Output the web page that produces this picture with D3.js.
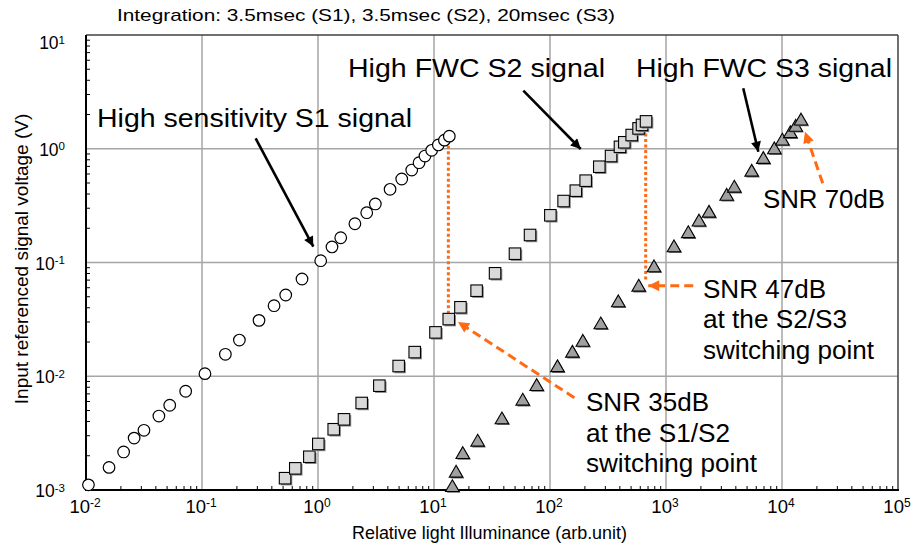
<!DOCTYPE html>
<html>
<head>
<meta charset="utf-8">
<script src="https://cdn.jsdelivr.net/npm/d3@7"></script>
<style>
  body { margin: 0; background: #fff; }
  svg { display: block; font-family: "Liberation Sans", Arial, sans-serif; }
</style>
</head>
<body>
<div class="chart-container"></div>
<script>
// S1 (high sensitivity), S2 (high FWC), S3 (high FWC, long integration)  [illuminance, volts]
var s1 = [[0.0105,0.00111],[0.0158,0.00158],[0.0211,0.00216],[0.026,0.00286],[0.0316,0.00335],
          [0.0425,0.00447],[0.0527,0.00556],[0.0723,0.00738],[0.106,0.01054],[0.159,0.0156],
          [0.21,0.0208],[0.31,0.031],[0.418,0.0417],[0.527,0.0518],[0.728,0.0716],
          [1.055,0.1037],[1.32,0.137],[1.57,0.165],[2.08,0.219],[2.63,0.274],
          [3.12,0.327],[4.18,0.44],[5.27,0.542],[6.43,0.65],[7.43,0.754],
          [8.36,0.863],[9.55,0.969],[10.9,1.08],[12.3,1.19],[13.55,1.29]];
var s2 = [[0.52,0.00127],[0.637,0.00155],[0.842,0.00196],[1.006,0.00254],[1.366,0.00342],
          [1.675,0.00418],[2.38,0.00582],[3.38,0.00826],[4.96,0.0123],[6.82,0.0163],
          [10.3,0.0243],[13.4,0.0318],[16.9,0.0404],[23.3,0.0565],[33.6,0.0804],
          [49.9,0.1195],[67.3,0.1745],[100.7,0.26],[131,0.347],[167,0.428],
          [203,0.524],[266,0.695],[336,0.863],[401,1.04],[437,1.14],
          [506,1.32],[580,1.51],[621,1.62],[673,1.74]];
var s3 = [[14.4,0.00106],[15.5,0.00142],[17.7,0.00207],[23.8,0.00266],[38.5,0.00418],
          [58.2,0.0061],[76.8,0.0082],[116,0.012],[156,0.0161],[192,0.0201],
          [274,0.0286],[388,0.0447],[582,0.0613],[788,0.0908],[1172,0.136],
          [1556,0.181],[1925,0.229],[2348,0.274],[3335,0.386],[3880,0.455],
          [5480,0.628],[6900,0.813],[8590,0.989],[10070,1.18],[11800,1.37],
          [13130,1.56],[14580,1.77]];

var xTickExps = [-2, -1, 0, 1, 2, 3, 4, 5];
var yTickExps = [-3, -2, -1, 0, 1];

// switching points: x, top value, bottom value
var switchLines = [[13.3, 1.19, 0.036], [668, 1.52, 0.070]];
// arrows: [x0, y0, x1, y1] in data units, head at (x1, y1)
var blackArrows = [[0.29, 1.236, 0.911, 0.138], [58.9, 3.24, 184, 0.995], [4634, 3.40, 6250, 0.942]];
var orangeArrows = [[162, 0.00648, 16.1, 0.030], [1718, 0.0625, 703, 0.0625], [22440, 0.497, 15780, 1.41]];

var orange = "#ff6a13";

draw();

function draw() {
    var width = 922, height = 548;
    var margin = { top: 35, right: 24, bottom: 58, left: 86 };

    var svg = d3.select(".chart-container").append("svg")
        .attr("width", width)
        .attr("height", height);

    var x = d3.scaleLog().domain([1e-2, 1e5]).range([margin.left, width - margin.right]);
    var y = d3.scaleLog().domain([1e-3, 1e1]).range([height - margin.bottom, margin.top]);
    var x0 = x.range()[0], x1 = x.range()[1], y0 = y.range()[0], y1 = y.range()[1];

    var defs = svg.append("defs");
    function marker(id, color, w, h) {
        defs.append("marker")
            .attr("id", id)
            .attr("markerUnits", "userSpaceOnUse")
            .attr("viewBox", "0 0 10 10")
            .attr("refX", 10).attr("refY", 5)
            .attr("markerWidth", w).attr("markerHeight", h)
            .attr("orient", "auto")
          .append("path")
            .attr("d", "M0,0L10,5L0,10z")
            .attr("fill", color);
    }
    marker("headBlack", "#000", 14, 10);
    marker("headOrange", orange, 12, 11);

    // major grid
    var grid = svg.append("g").attr("stroke", "#a6a6a6").attr("stroke-width", 1.5);
    grid.selectAll(".gx").data(xTickExps.slice(1, -1)).enter().append("line")
        .attr("x1", function (e) { return x(Math.pow(10, e)); })
        .attr("x2", function (e) { return x(Math.pow(10, e)); })
        .attr("y1", y0).attr("y2", y1);
    grid.selectAll(".gy").data(yTickExps.slice(1, -1)).enter().append("line")
        .attr("y1", function (e) { return y(Math.pow(10, e)); })
        .attr("y2", function (e) { return y(Math.pow(10, e)); })
        .attr("x1", x0).attr("x2", x1);

    // frame
    svg.append("line").attr("x1", x0).attr("x2", x1).attr("y1", y1).attr("y2", y1)
        .attr("stroke", "#404040").attr("stroke-width", 1.5);
    svg.append("line").attr("x1", x1).attr("x2", x1).attr("y1", y0).attr("y2", y1)
        .attr("stroke", "#404040").attr("stroke-width", 1.5);

    // minor ticks (inward)
    var minorX = [], minorY = [];
    xTickExps.slice(0, -1).forEach(function (e) {
        for (var m = 2; m < 10; m++) minorX.push(m * Math.pow(10, e));
    });
    yTickExps.slice(0, -1).forEach(function (e) {
        for (var m = 2; m < 10; m++) minorY.push(m * Math.pow(10, e));
    });
    svg.append("g").attr("stroke", "#000").attr("stroke-width", 1)
        .selectAll("line").data(minorX).enter().append("line")
        .attr("x1", function (d) { return x(d); }).attr("x2", function (d) { return x(d); })
        .attr("y1", y0).attr("y2", y0 - 4);
    svg.append("g").attr("stroke", "#000").attr("stroke-width", 1)
        .selectAll("line").data(minorY).enter().append("line")
        .attr("y1", function (d) { return y(d); }).attr("y2", function (d) { return y(d); })
        .attr("x1", x0).attr("x2", x0 + 4);

    // main axes
    svg.append("line").attr("x1", x0).attr("x2", x1 + 1).attr("y1", y0).attr("y2", y0)
        .attr("stroke", "#000").attr("stroke-width", 2);
    svg.append("line").attr("x1", x0).attr("x2", x0).attr("y1", y0 + 1).attr("y2", y1)
        .attr("stroke", "#000").attr("stroke-width", 2);

    // tick labels
    var xl = svg.append("g").attr("font-size", 18.5).attr("text-anchor", "middle")
        .selectAll("text").data(xTickExps).enter().append("text")
        .attr("x", function (e) { return x(Math.pow(10, e)) - 1; })
        .attr("y", y0 + 23);
    xl.append("tspan").text("10");
    xl.append("tspan").attr("font-size", 12).attr("dy", -6.5).text(function (e) { return e; });

    var yl = svg.append("g").attr("font-size", 17.5).attr("text-anchor", "end")
        .selectAll("text").data(yTickExps).enter().append("text")
        .attr("x", 65)
        .attr("y", function (e) { return Math.max(y(Math.pow(10, e)) + 7, 49); });
    yl.append("tspan").text("10");
    yl.append("tspan").attr("font-size", 11.5).attr("dy", -5.5).text(function (e) { return e; });

    // axis titles
    svg.append("text").attr("x", 352).attr("y", 539)
        .attr("font-size", 17.5).attr("textLength", 275).attr("lengthAdjust", "spacingAndGlyphs")
        .text("Relative light Illuminance (arb.unit)");
    svg.append("text").attr("transform", "translate(28,259) rotate(-90)")
        .attr("text-anchor", "middle").attr("font-size", 19)
        .text("Input referenced signal voltage (V)");

    // title
    svg.append("text").attr("x", 117).attr("y", 21).attr("font-size", 17)
        .attr("textLength", 498).attr("lengthAdjust", "spacingAndGlyphs")
        .text("Integration: 3.5msec (S1), 3.5msec (S2), 20msec (S3)");

    // switching dotted lines
    svg.append("g").attr("stroke", orange).attr("stroke-width", 3)
        .attr("stroke-dasharray", "3,2.5")
        .selectAll("line").data(switchLines).enter().append("line")
        .attr("x1", function (d) { return x(d[0]); }).attr("x2", function (d) { return x(d[0]); })
        .attr("y1", function (d) { return y(d[1]); }).attr("y2", function (d) { return y(d[2]); });

    // S1 circles
    svg.append("g").selectAll("circle").data(s1).enter().append("circle")
        .attr("cx", function (d) { return x(d[0]); })
        .attr("cy", function (d) { return y(d[1]); })
        .attr("r", 5.8)
        .attr("fill", "#fff").attr("stroke", "#000").attr("stroke-width", 1.2);

    // S2 squares
    var sq = 11.5;
    var g2 = svg.append("g");
    s2.forEach(function (d) {
        var cx = x(d[0]), cy = y(d[1]);
        g2.append("rect").attr("x", cx - sq / 2 + 1.5).attr("y", cy - sq / 2 + 1.5)
            .attr("width", sq).attr("height", sq).attr("fill", "#8c8c8c");
        g2.append("rect").attr("x", cx - sq / 2).attr("y", cy - sq / 2)
            .attr("width", sq).attr("height", sq)
            .attr("fill", "#d9d9d9").attr("stroke", "#000").attr("stroke-width", 1.1);
    });

    // S3 triangles
    var tri = d3.symbol().type(d3.symbolTriangle).size(80);
    var g3 = svg.append("g");
    s3.forEach(function (d) {
        var cx = x(d[0]), cy = y(d[1]);
        g3.append("path").attr("d", tri)
            .attr("transform", "translate(" + (cx + 1.3) + "," + (cy + 1.8) + ")")
            .attr("fill", "#6e6e6e");
        g3.append("path").attr("d", tri)
            .attr("transform", "translate(" + cx + "," + (cy + 0.5) + ")")
            .attr("fill", "#a0a0a0").attr("stroke", "#000").attr("stroke-width", 1.1);
    });

    // arrows
    svg.append("g").selectAll("line").data(blackArrows).enter().append("line")
        .attr("x1", function (d) { return x(d[0]); }).attr("y1", function (d) { return y(d[1]); })
        .attr("x2", function (d) { return x(d[2]); }).attr("y2", function (d) { return y(d[3]); })
        .attr("stroke", "#000").attr("stroke-width", 2.6)
        .attr("marker-end", "url(#headBlack)");
    svg.append("g").selectAll("line").data(orangeArrows).enter().append("line")
        .attr("x1", function (d) { return x(d[0]); }).attr("y1", function (d) { return y(d[1]); })
        .attr("x2", function (d) { return x(d[2]); }).attr("y2", function (d) { return y(d[3]); })
        .attr("stroke", orange).attr("stroke-width", 3).attr("stroke-dasharray", "9,5")
        .attr("marker-end", "url(#headOrange)");

    // annotation text
    var notes = [
        { t: "High sensitivity S1 signal", x: 97, y: 127, w: 315 },
        { t: "High FWC S2 signal", x: 348, y: 77, w: 257 },
        { t: "High FWC S3 signal", x: 636, y: 77, w: 256 },
        { t: "SNR 70dB", x: 763, y: 208, w: 122 },
        { t: "SNR 47dB", x: 703, y: 298, w: 123 },
        { t: "at the S2/S3", x: 703, y: 328, w: 144 },
        { t: "switching point", x: 703, y: 359, w: 171 },
        { t: "SNR 35dB", x: 586, y: 411, w: 123 },
        { t: "at the S1/S2", x: 586, y: 442, w: 144 },
        { t: "switching point", x: 586, y: 472, w: 171 }
    ];
    svg.append("g").attr("font-size", 25).selectAll("text").data(notes).enter().append("text")
        .attr("x", function (d) { return d.x; })
        .attr("y", function (d) { return d.y; })
        .attr("textLength", function (d) { return d.w; })
        .attr("lengthAdjust", "spacingAndGlyphs")
        .text(function (d) { return d.t; });
}
</script>
</body>
</html>
